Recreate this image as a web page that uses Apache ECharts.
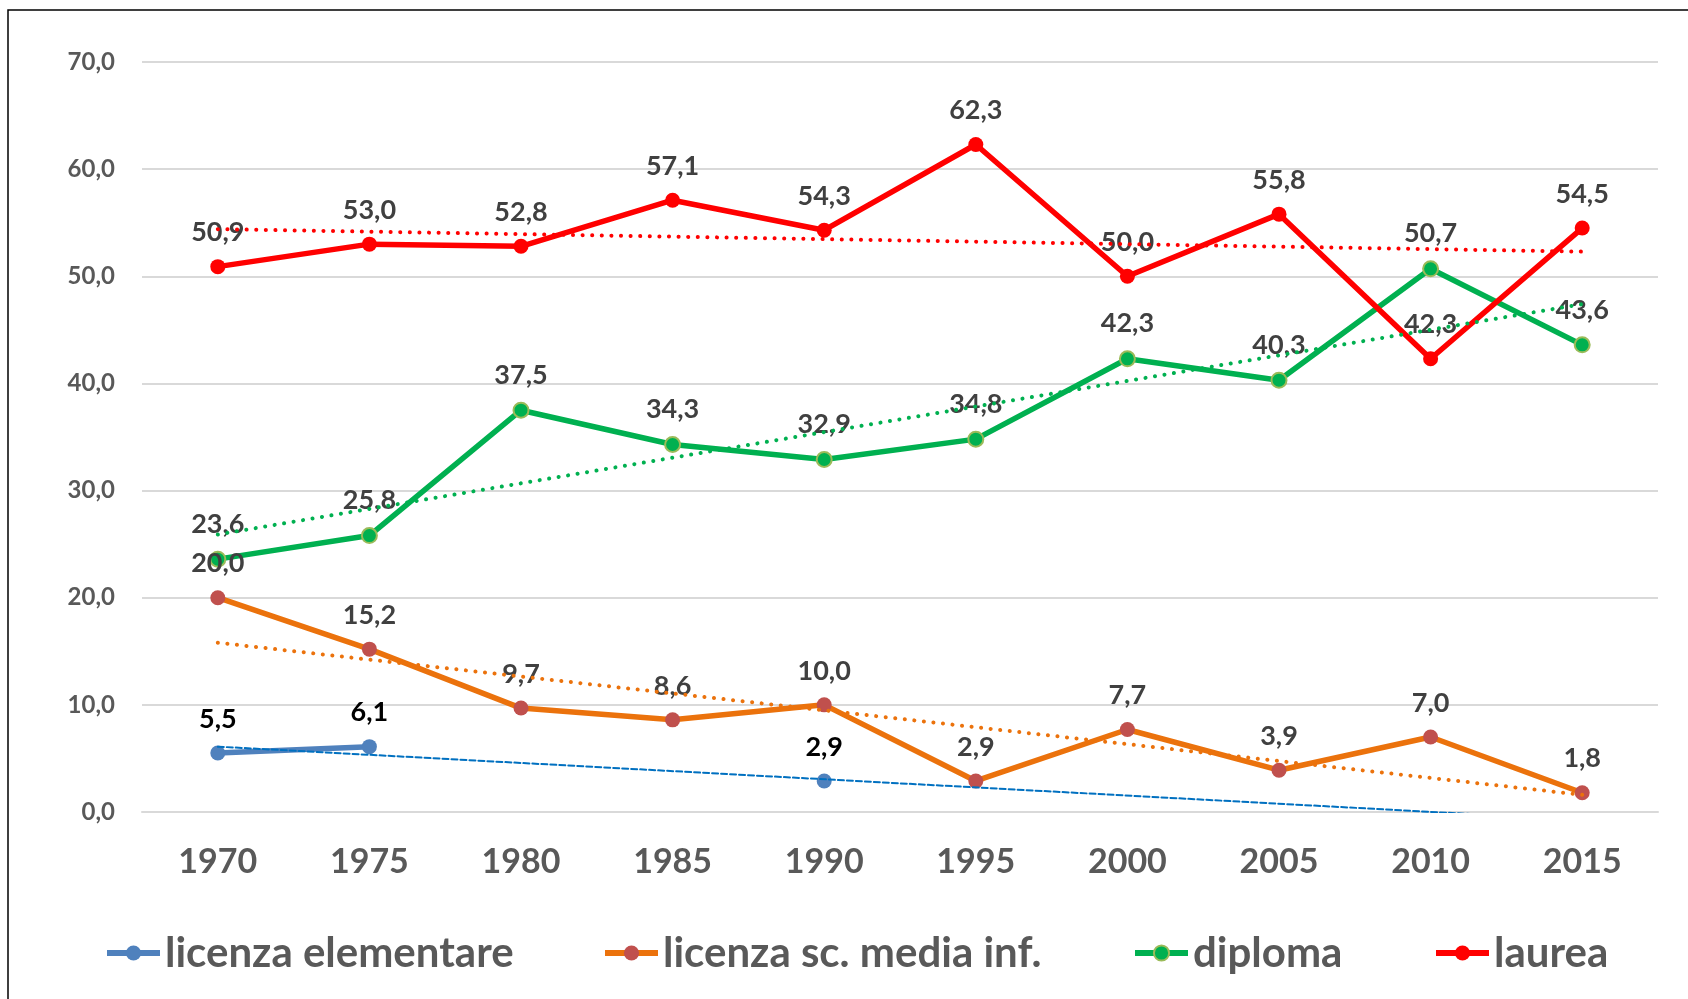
<!DOCTYPE html>
<html>
<head>
<meta charset="utf-8">
<script src="https://cdn.jsdelivr.net/npm/echarts@6/dist/echarts.min.js"></script>
<style>
  html, body { margin: 0; padding: 0; background: #fff; }
  #chart { width: 1688px; height: 999px; }
</style>
</head>
<body>
<div id="chart"></div>
<script>
const years = ['1970', '1975', '1980', '1985', '1990', '1995', '2000', '2005', '2010', '2015']
const yTicks = [0, 10, 20, 30, 40, 50, 60, 70]

const elementare = [5.5, 6.1, null, null, 2.9, null, null, null, null, null]
const media = [20.0, 15.2, 9.7, 8.6, 10.0, 2.9, 7.7, 3.9, 7.0, 1.8]
const diploma = [23.6, 25.8, 37.5, 34.3, 32.9, 34.8, 42.3, 40.3, 50.7, 43.6]
const laurea = [50.9, 53.0, 52.8, 57.1, 54.3, 62.3, 50.0, 55.8, 42.3, 54.5]

// trend line ends (first year, last year)
const trendElementare = [6.1, -0.75]
const trendMedia = [15.8, 1.6]
const trendDiploma = [25.9, 47.4]
const trendLaurea = [54.4, 52.3]

const comma = v => v.toFixed(1).replace('.', ',')
const FONT = 'Lato, "Open Sans", sans-serif'

function trend(ends) {
  return years.map((y, i) => (i === 0 ? ends[0] : i === years.length - 1 ? ends[1] : null))
}

function mainSeries(name, data, lineColor, markColor, labelColor, border) {
  return {
    name,
    type: 'line',
    data,
    symbol: 'circle',
    symbolSize: 15,
    showAllSymbol: true,
    connectNulls: false,
    lineStyle: { color: lineColor, width: 5.5 },
    itemStyle: border
      ? { color: markColor, borderColor: border, borderWidth: 2 }
      : { color: markColor },
    label: {
      show: true,
      position: 'top',
      distance: 13,
      formatter: ({ value }) => comma(value),
      color: labelColor,
      fontFamily: FONT,
      fontWeight: 'bold',
      fontSize: 27
    },
    emphasis: { disabled: true },
    z: 3
  }
}

function trendSeries(ends, color, type, width) {
  return {
    name: 'trend',
    type: 'line',
    data: trend(ends),
    connectNulls: true,
    symbol: 'none',
    lineStyle: { color, width, type, cap: 'round' },
    emphasis: { disabled: true },
    silent: true,
    z: 4
  }
}

function legendAt(name, left) {
  return {
    data: [name],
    left,
    top: 927,
    itemWidth: 53,
    itemHeight: 19,
    itemGap: 0,
    selectedMode: false,
    lineStyle: { width: 6 },
    textStyle: {
      fontFamily: FONT,
      fontWeight: 'bold',
      fontSize: 42,
      color: '#595959'
    }
  }
}

const chart = echarts.init(document.getElementById('chart'))
chart.setOption({
  animation: false,
  backgroundColor: '#fff',
  graphic: [{
    type: 'rect',
    shape: { x: 8, y: 10, width: 1700, height: 1010 },
    style: { fill: 'none', stroke: '#000', lineWidth: 1.5 },
    silent: true
  }],
  grid: { left: 142, right: 30, top: 62, bottom: 187 },
  legend: [
    legendAt('licenza elementare', 99),
    legendAt('licenza sc. media inf.', 597),
    legendAt('diploma', 1127),
    legendAt('laurea', 1428)
  ],
  xAxis: {
    type: 'category',
    data: years,
    boundaryGap: true,
    axisLine: { show: true, lineStyle: { color: '#d9d9d9', width: 2 } },
    axisTick: { show: false },
    axisLabel: {
      margin: 33,
      color: '#595959',
      fontFamily: FONT,
      fontWeight: 'bold',
      fontSize: 34
    }
  },
  yAxis: {
    type: 'value',
    min: yTicks[0],
    max: yTicks[yTicks.length - 1],
    interval: 10,
    axisLine: { show: false },
    axisTick: { show: false },
    splitLine: { lineStyle: { color: '#d9d9d9', width: 2 } },
    axisLabel: {
      margin: 27,
      formatter: v => comma(v),
      color: '#595959',
      fontFamily: FONT,
      fontWeight: 'bold',
      fontSize: 24
    }
  },
  series: [
    mainSeries('licenza elementare', elementare, '#4F81BD', '#4F81BD', '#000000'),
    mainSeries('licenza sc. media inf.', media, '#EB720C', '#C0504D', '#404040'),
    mainSeries('diploma', diploma, '#00B050', '#00B050', '#404040', '#9BBB59'),
    mainSeries('laurea', laurea, '#FF0000', '#FF0000', '#404040'),
    trendSeries(trendElementare, '#0070C0', [6, 3], 2),
    trendSeries(trendMedia, '#EB720C', [0.1, 9.5], 4),
    trendSeries(trendDiploma, '#00B050', [0.1, 9.5], 4),
    trendSeries(trendLaurea, '#FF0000', [0.1, 9.5], 4)
  ]
})
</script>
</body>
</html>
